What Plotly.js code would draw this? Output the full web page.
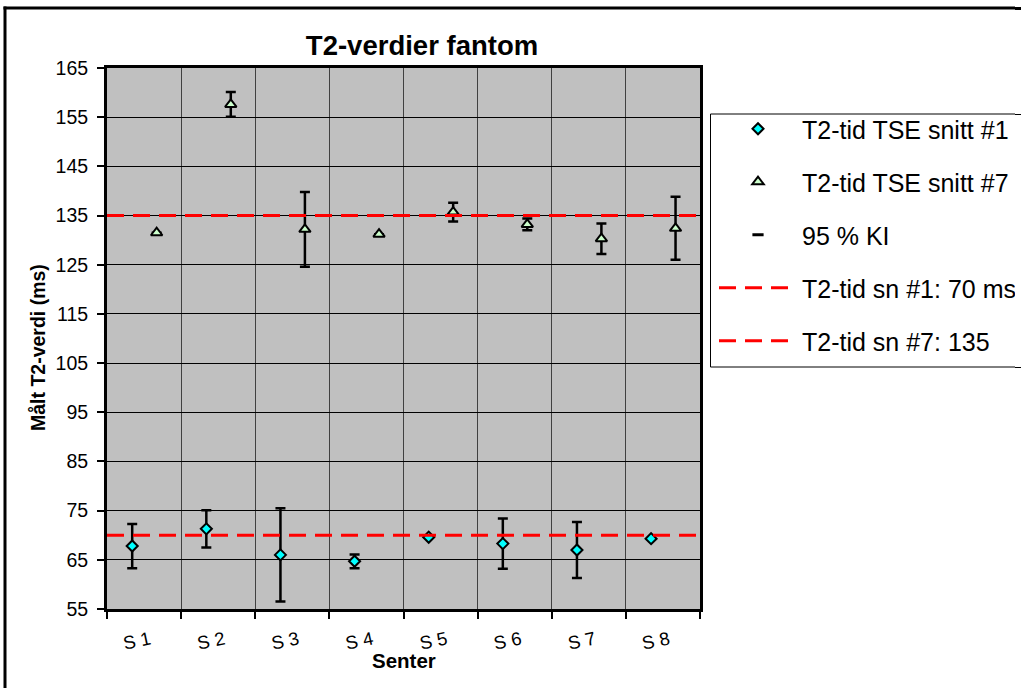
<!DOCTYPE html>
<html>
<head>
<meta charset="utf-8">
<script src="https://cdn.plot.ly/plotly-3.0.1.min.js"></script>
<style>
html, body { margin: 0; padding: 0; overflow: hidden; background: #ffffff; }
#chart { width: 1021px; height: 688px; }
#edge { position: fixed; right: 0; top: 0; width: 6px; height: 688px; background: #ffffff; z-index: 10000; pointer-events: none; }
#edge div { position: absolute; left: 0; width: 6px; background: #000000; }
</style>
</head>
<body>
<div id="chart"></div>
<div id="edge">
  <div style="top:6.5px;height:3px;"></div>
  <div style="top:113.5px;height:1px;"></div>
  <div style="top:366.5px;height:1px;"></div>
</div>
<script>
// ---- data ----
const categories = ['S 1', 'S 2', 'S 3', 'S 4', 'S 5', 'S 6', 'S 7', 'S 8'];
const snitt1 = [67.8, 71.3, 66.0, 64.7, 69.6, 68.3, 67.0, 69.3];
const snitt1CI = [4.5, 3.8, 9.5, 1.4, null, 5.1, 5.7, null];
const snitt7 = [131.5, 157.6, 132.2, 131.2, 135.7, 133.2, 130.3, 132.4];
const snitt7CI = [null, 2.5, 7.6, null, 1.9, 1.2, 3.1, 6.4];
const refSnitt1 = 70;
const refSnitt7 = 135;
const seriesNames = ['T2-tid TSE snitt #1', 'T2-tid TSE snitt #7', '95 % KI',
                     'T2-tid sn #1: 70 ms', 'T2-tid sn #7: 135'];
const chartTitle = 'T2-verdier fantom';
const xTitle = 'Senter';
const yTitle = 'Målt T2-verdi (ms)';

// ---- layout geometry ----
const W = 1021, H = 688;
const plotL = 107, plotR = 700, plotT = 68, plotB = 609;
const pw = plotR - plotL, ph = plotB - plotT;
const FONT = 'Liberation Sans, Arial, Helvetica, sans-serif';
const xRange = [0, categories.length];
const idx = categories.map((_, i) => i);

const px2x = p => (p - plotL) / pw;
const px2y = p => (plotB - p) / ph;

const traces = [
  {
    type: 'scatter', mode: 'markers', name: seriesNames[0], legendgroup: 'g1',
    x: idx.map(i => i + 0.34), y: snitt1,
    marker: { symbol: 'diamond', size: 8.5, color: '#00FFFF', line: { color: '#000000', width: 2 } },
    error_y: { type: 'data', array: snitt1CI, visible: true, color: '#000000', thickness: 2.5, width: 5 }
  },
  {
    type: 'scatter', mode: 'markers', name: seriesNames[1], legendgroup: 'g2',
    x: idx.map(i => i + 0.67), y: snitt7,
    marker: { symbol: 'triangle-up', size: 10, color: '#CCFFCC', line: { color: '#000000', width: 2 } },
    error_y: { type: 'data', array: snitt7CI, visible: true, color: '#000000', thickness: 2.5, width: 5 }
  },
  {
    type: 'scatter', mode: 'markers', name: seriesNames[2], legendgroup: 'g3',
    x: [null], y: [null],
    marker: { symbol: 'line-ew', size: 8, color: '#000000', line: { color: '#000000', width: 3 } }
  },
  {
    type: 'scatter', mode: 'lines', name: seriesNames[3], legendgroup: 'g4',
    x: xRange, y: [refSnitt1, refSnitt1],
    line: { color: '#FF0000', width: 3, dash: '17px,9px' }
  },
  {
    type: 'scatter', mode: 'lines', name: seriesNames[4], legendgroup: 'g5',
    x: xRange, y: [refSnitt7, refSnitt7],
    line: { color: '#FF0000', width: 3, dash: '17px,9px' }
  }
];

const layout = {
  width: W, height: H,
  margin: { l: plotL, r: W - plotR, t: plotT, b: H - plotB, pad: 0, autoexpand: false },
  paper_bgcolor: '#ffffff',
  plot_bgcolor: '#C0C0C0',
  font: { family: FONT, color: '#000000', size: 19 },
  showlegend: true,
  title: {
    text: chartTitle,
    font: { family: FONT, size: 27.5, weight: 'bold', color: '#000000' },
    xref: 'paper', x: px2x(422), xanchor: 'center',
    yref: 'container', y: 1 - 45 / H, yanchor: 'middle'
  },
  xaxis: {
    range: xRange,
    tickmode: 'array',
    tickvals: idx.map(i => i + 0.58),
    ticktext: categories,
    tickangle: -12,
    ticks: '',
    showgrid: false,
    zeroline: false,
    showline: true, mirror: true, linecolor: '#000000', linewidth: 3,
    tickfont: { family: FONT, size: 18.5, color: '#000000' },
    ticklabelstandoff: 10,
    minor: {
      tickmode: 'linear', tick0: 0, dtick: 1,
      ticks: 'outside', ticklen: 7, tickwidth: 2, tickcolor: '#000000',
      showgrid: true, gridcolor: '#404040', gridwidth: 1
    },
    fixedrange: true
  },
  yaxis: {
    range: [55, 165],
    tickmode: 'linear', tick0: 55, dtick: 10,
    ticks: 'outside', ticklen: 7, tickwidth: 2, tickcolor: '#000000',
    showgrid: true, gridcolor: '#000000', gridwidth: 1,
    zeroline: false,
    showline: true, mirror: true, linecolor: '#000000', linewidth: 3,
    tickfont: { family: FONT, size: 19.5, color: '#000000' },
    ticklabelstandoff: 5,
    fixedrange: true
  },
  annotations: [
    {
      text: xTitle, showarrow: false,
      xref: 'paper', x: 0.5, xanchor: 'center',
      yref: 'paper', y: px2y(660), yanchor: 'middle',
      font: { family: FONT, size: 20.5, weight: 'bold', color: '#000000' }
    },
    {
      text: yTitle, showarrow: false, textangle: -90,
      xref: 'paper', x: px2x(38), xanchor: 'center',
      yref: 'paper', y: px2y(348), yanchor: 'middle',
      font: { family: FONT, size: 19.5, weight: 'bold', color: '#000000' }
    }
  ],
  legend: {
    x: px2x(714), xanchor: 'left',
    y: px2y(106), yanchor: 'top',
    bgcolor: 'rgba(0,0,0,0)', borderwidth: 0,
    font: { family: FONT, size: 25, color: '#000000' },
    itemwidth: 78,
    traceorder: 'grouped',
    tracegroupgap: 17.5
  },
  shapes: [
    // legend box (extends past the right edge of the picture)
    {
      type: 'rect', xref: 'paper', yref: 'paper', layer: 'below',
      x0: px2x(710.5), x1: px2x(W + 40), y0: px2y(367), y1: px2y(114),
      line: { color: '#000000', width: 1 }, fillcolor: '#ffffff'
    },
    // outer chart frame: left and top edges
    {
      type: 'line', xref: 'paper', yref: 'paper', layer: 'above',
      x0: px2x(5), x1: px2x(5), y0: px2y(H + 40), y1: px2y(6.5),
      line: { color: '#000000', width: 3 }
    },
    {
      type: 'line', xref: 'paper', yref: 'paper', layer: 'above',
      x0: px2x(3.5), x1: px2x(W + 40), y0: px2y(8), y1: px2y(8),
      line: { color: '#000000', width: 3 }
    }
  ]
};

Plotly.newPlot('chart', traces, layout, { displayModeBar: false, staticPlot: true });
</script>
</body>
</html>
